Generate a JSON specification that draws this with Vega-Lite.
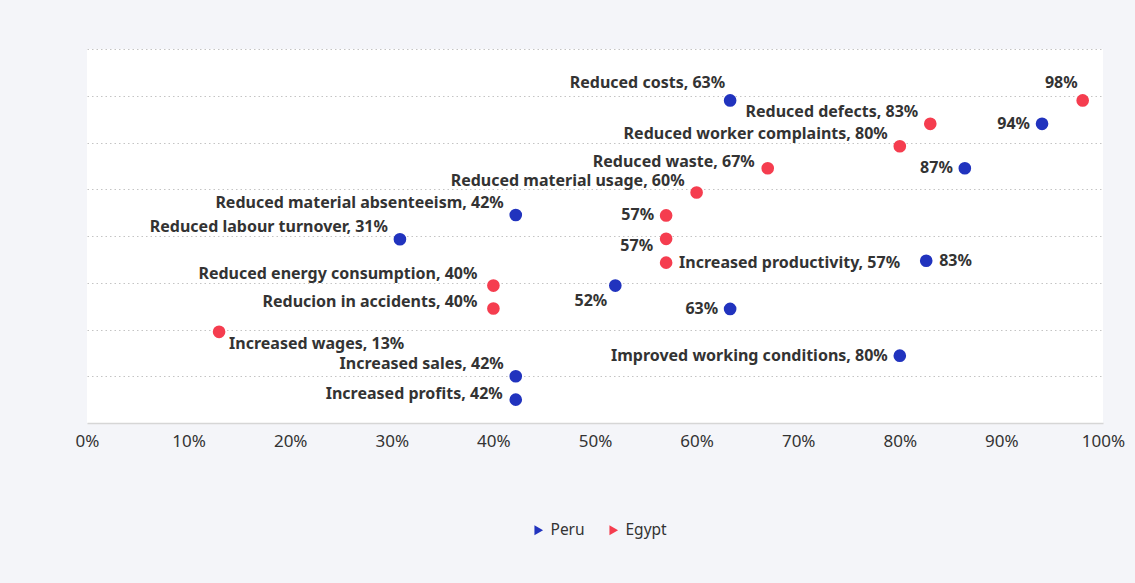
{
  "$schema": "https://vega.github.io/schema/vega-lite/v6.json",
  "width": 1016,
  "height": 374,
  "autosize": {"type": "none"},
  "padding": {"left": 87, "top": 49, "right": 32, "bottom": 160},
  "background": "#f4f5f9",
  "config": {"view": {"fill": "white", "stroke": null}, "font": "Noto Sans"},
  "data": {"values": [
    {"id": 1, "country": "Peru", "pct": 63.3, "pos": 6.9, "label": "Reduced costs, 63%"},
    {"id": 2, "country": "Peru", "pct": 94, "pos": 6.4, "label": "94%"},
    {"id": 3, "country": "Peru", "pct": 86.4, "pos": 5.45, "label": "87%"},
    {"id": 4, "country": "Peru", "pct": 42.2, "pos": 4.45, "label": "Reduced material absenteeism, 42%"},
    {"id": 5, "country": "Peru", "pct": 30.8, "pos": 3.93, "label": "Reduced labour turnover, 31%"},
    {"id": 6, "country": "Peru", "pct": 82.6, "pos": 3.47, "label": "83%"},
    {"id": 7, "country": "Peru", "pct": 52, "pos": 2.94, "label": "52%"},
    {"id": 8, "country": "Peru", "pct": 63.3, "pos": 2.44, "label": "63%"},
    {"id": 9, "country": "Peru", "pct": 80, "pos": 1.44, "label": "Improved working conditions, 80%"},
    {"id": 10, "country": "Peru", "pct": 42.2, "pos": 1.0, "label": "Increased sales, 42%"},
    {"id": 11, "country": "Peru", "pct": 42.2, "pos": 0.5, "label": "Increased profits, 42%"},
    {"id": 12, "country": "Egypt", "pct": 98, "pos": 6.9, "label": "98%"},
    {"id": 13, "country": "Egypt", "pct": 83, "pos": 6.4, "label": "Reduced defects, 83%"},
    {"id": 14, "country": "Egypt", "pct": 80, "pos": 5.92, "label": "Reduced worker complaints, 80%"},
    {"id": 15, "country": "Egypt", "pct": 67, "pos": 5.45, "label": "Reduced waste, 67%"},
    {"id": 16, "country": "Egypt", "pct": 60, "pos": 4.93, "label": "Reduced material usage, 60%"},
    {"id": 17, "country": "Egypt", "pct": 57, "pos": 4.44, "label": "57%"},
    {"id": 18, "country": "Egypt", "pct": 57, "pos": 3.94, "label": "57%"},
    {"id": 19, "country": "Egypt", "pct": 57, "pos": 3.43, "label": "Increased productivity, 57%"},
    {"id": 20, "country": "Egypt", "pct": 40, "pos": 2.94, "label": "Reduced energy consumption, 40%"},
    {"id": 21, "country": "Egypt", "pct": 40, "pos": 2.45, "label": "Reducion in accidents, 40%"},
    {"id": 22, "country": "Egypt", "pct": 13, "pos": 1.95, "label": "Increased wages, 13%"}
  ]},
  "encoding": {
    "x": {
      "field": "pct", "type": "quantitative",
      "scale": {"domain": [0, 100], "nice": false},
      "axis": {
        "values": [0, 10, 20, 30, 40, 50, 60, 70, 80, 90, 100],
        "labelExpr": "datum.value + '%'",
        "grid": false, "ticks": false, "title": null,
        "domainColor": "#d6d6d6", "domainWidth": 1.5,
        "labelFontSize": 17, "labelColor": "#333333", "labelPadding": 10,
        "labelFlush": false, "labelOverlap": false
      }
    },
    "y": {
      "field": "pos", "type": "quantitative",
      "scale": {"domain": [0, 8], "nice": false},
      "axis": {
        "values": [1, 2, 3, 4, 5, 6, 7, 8],
        "labels": false, "ticks": false, "domain": false, "title": null,
        "grid": true, "gridDash": [1.5, 3], "gridColor": "#c4c4c4", "gridWidth": 1
      }
    }
  },
  "layer": [
    {
      "mark": {"type": "circle", "size": 160, "opacity": 1},
      "encoding": {
        "color": {
          "field": "country", "type": "nominal",
          "scale": {"domain": ["Peru", "Egypt"], "range": ["#2133be", "#f53d4f"]},
          "legend": {
            "title": null, "orient": "none", "legendX": 444, "legendY": 473,
            "direction": "horizontal", "symbolType": "triangle-right", "symbolSize": 100,
            "labelFontSize": 15.5, "labelColor": "#333333", "columnPadding": 21, "labelOffset": 4, "symbolOpacity": 1,
            "encode": {"symbols": {"update": {"fill": {"signal": "datum.value === 'Peru' ? '#0d4a9e' : '#f53d4f'"}, "stroke": {"value": "transparent"}}}}
          }
        }
      }
    },
    {
      "transform": [{"filter": {"field": "id", "oneOf": [2, 3, 8, 9, 17]}}],
      "mark": {"type": "text", "align": "right", "baseline": "middle", "dx": -12, "dy": 0, "fontWeight": "bold", "fontSize": 16, "color": "#333333"},
      "encoding": {"text": {"field": "label"}}
    },
    {
      "transform": [{"filter": {"field": "id", "oneOf": [4, 5, 10, 13, 14, 16]}}],
      "mark": {"type": "text", "align": "right", "baseline": "middle", "dx": -12, "dy": -12, "fontWeight": "bold", "fontSize": 16, "color": "#333333"},
      "encoding": {"text": {"field": "label"}}
    },
    {
      "transform": [{"filter": {"field": "id", "oneOf": [20]}}],
      "mark": {"type": "text", "align": "right", "baseline": "middle", "dx": -16, "dy": -12, "fontWeight": "bold", "fontSize": 16, "color": "#333333"},
      "encoding": {"text": {"field": "label"}}
    },
    {
      "transform": [{"filter": {"field": "id", "oneOf": [1, 12]}}],
      "mark": {"type": "text", "align": "right", "baseline": "middle", "dx": -5, "dy": -17, "fontWeight": "bold", "fontSize": 16, "color": "#333333"},
      "encoding": {"text": {"field": "label"}}
    },
    {
      "transform": [{"filter": {"field": "id", "oneOf": [11, 15]}}],
      "mark": {"type": "text", "align": "right", "baseline": "middle", "dx": -13, "dy": -6, "fontWeight": "bold", "fontSize": 16, "color": "#333333"},
      "encoding": {"text": {"field": "label"}}
    },
    {
      "transform": [{"filter": {"field": "id", "oneOf": [21]}}],
      "mark": {"type": "text", "align": "right", "baseline": "middle", "dx": -16, "dy": -6, "fontWeight": "bold", "fontSize": 16, "color": "#333333"},
      "encoding": {"text": {"field": "label"}}
    },
    {
      "transform": [{"filter": {"field": "id", "oneOf": [7]}}],
      "mark": {"type": "text", "align": "right", "baseline": "middle", "dx": -8, "dy": 15, "fontWeight": "bold", "fontSize": 16, "color": "#333333"},
      "encoding": {"text": {"field": "label"}}
    },
    {
      "transform": [{"filter": {"field": "id", "oneOf": [18]}}],
      "mark": {"type": "text", "align": "right", "baseline": "middle", "dx": -13, "dy": 7, "fontWeight": "bold", "fontSize": 16, "color": "#333333"},
      "encoding": {"text": {"field": "label"}}
    },
    {
      "transform": [{"filter": {"field": "id", "oneOf": [6, 19]}}],
      "mark": {"type": "text", "align": "left", "baseline": "middle", "dx": 13, "dy": 0, "fontWeight": "bold", "fontSize": 16, "color": "#333333"},
      "encoding": {"text": {"field": "label"}}
    },
    {
      "transform": [{"filter": {"field": "id", "oneOf": [22]}}],
      "mark": {"type": "text", "align": "left", "baseline": "middle", "dx": 10, "dy": 12, "fontWeight": "bold", "fontSize": 16, "color": "#333333"},
      "encoding": {"text": {"field": "label"}}
    }
  ]
}
